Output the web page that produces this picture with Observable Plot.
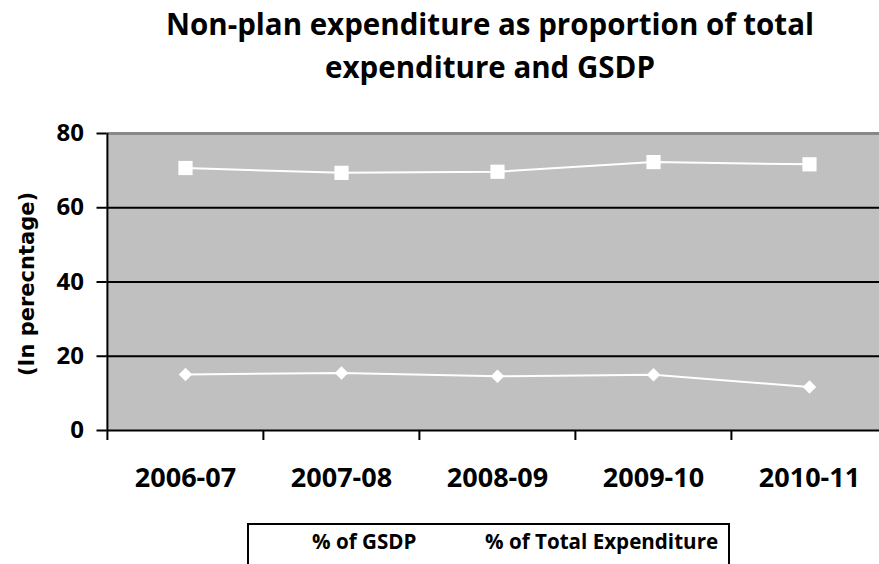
<!DOCTYPE html>
<html>
<head>
<meta charset="utf-8">
<script src="https://cdn.jsdelivr.net/npm/d3@7"></script>
<script src="https://cdn.jsdelivr.net/npm/@observablehq/plot@0.6"></script>
<style>
  body { margin: 0; background: #fff; }
  #wrap { position: relative; width: 879px; height: 564px; overflow: hidden; font-family: "Open Sans", sans-serif; color: #000; }
  #title { box-sizing: border-box; width: 879px; height: 100px; padding-left: 101px; padding-top: 2px; text-align: center; font-weight: 700; font-size: 29.5px; line-height: 43px; }
  #ylabel { position: absolute; left: 27px; top: 284px; transform: translate(-50%, -50%) rotate(-90deg); font-family: "DejaVu Sans", sans-serif; font-weight: bold; font-size: 21px; white-space: nowrap; }
  #legend { position: absolute; left: 247px; top: 523px; width: 483px; height: 60px; box-sizing: border-box; border: 2px solid #000; background: #fff; }
  #legend span { position: absolute; top: 6px; font-weight: 700; font-size: 20.6px; line-height: 21px; white-space: nowrap; }
</style>
</head>
<body>
<div id="wrap">
  <div id="title">Non-plan expenditure as proportion of total<br>expenditure and GSDP</div>
  <div id="chart"></div>
  <div id="ylabel">(In perecntage)</div>
  <div id="legend"></div>
</div>
<script>
const years = ["2006-07", "2007-08", "2008-09", "2009-10", "2010-11"];
const gsdp = [15.1, 15.5, 14.6, 15.0, 11.7];
const totalExp = [70.7, 69.4, 69.7, 72.3, 71.7];
const yTicks = [0, 20, 40, 60, 80];
const gridLines = [20, 40, 60];
const seriesNames = ["% of GSDP", "% of Total Expenditure"];

const rows = years.map((year, i) => ({year, gsdp: gsdp[i], total: totalExp[i]}));

const x0 = 106.5, x1 = 887.5;
const step = (x1 - x0) / years.length;
const plotTop = 33, plotBottom = 330;

const chart = Plot.plot({
  width: 879,
  height: 420,
  marginLeft: x0,
  marginRight: 0,
  marginTop: plotTop,
  marginBottom: 420 - plotBottom,
  style: {fontFamily: "'Open Sans', sans-serif", fontWeight: "bold", color: "#000", background: "transparent", overflow: "hidden"},
  x: {type: "point", domain: years, range: [x0, x1], padding: 0.5, label: null},
  y: {domain: [0, 80], label: null},
  marks: [
    Plot.frame({fill: "#c0c0c0", stroke: null}),
    Plot.ruleY(gridLines, {stroke: "#000", strokeWidth: 2}),
    Plot.ruleY([80], {stroke: "#888", strokeWidth: 3}),
    Plot.ruleY([0], {stroke: "#000", strokeWidth: 2}),
    Plot.ruleX(years.slice(0, 1), {x: d => d, dx: -step / 2, insetBottom: -10, stroke: "#000", strokeWidth: 2}),
    Plot.ruleX(years.slice(1), {x: d => d, dx: -step / 2, insetTop: plotBottom - plotTop, insetBottom: -10, stroke: "#000", strokeWidth: 2}),
    Plot.axisY(yTicks, {tickSize: 10, tickPadding: 13, strokeWidth: 2, fontSize: 24, label: null}),
    Plot.axisX(years, {tickSize: 0, tickPadding: 37, fontSize: 27, label: null}),
    Plot.line(rows, {x: "year", y: "total", stroke: "#fff", strokeWidth: 2}),
    Plot.dot(rows, {x: "year", y: "total", symbol: "square", r: 8, fill: "#fff", stroke: null}),
    Plot.line(rows, {x: "year", y: "gsdp", stroke: "#fff", strokeWidth: 2}),
    Plot.dot(rows, {x: "year", y: "gsdp", symbol: "diamond2", r: 6.1, fill: "#fff", stroke: null})
  ]
});
document.getElementById("chart").appendChild(chart);

const legend = document.getElementById("legend");
const legendLeft = [63, 236];
seriesNames.forEach((name, i) => {
  const s = document.createElement("span");
  s.textContent = name;
  s.style.left = legendLeft[i] + "px";
  legend.appendChild(s);
});
</script>
</body>
</html>
